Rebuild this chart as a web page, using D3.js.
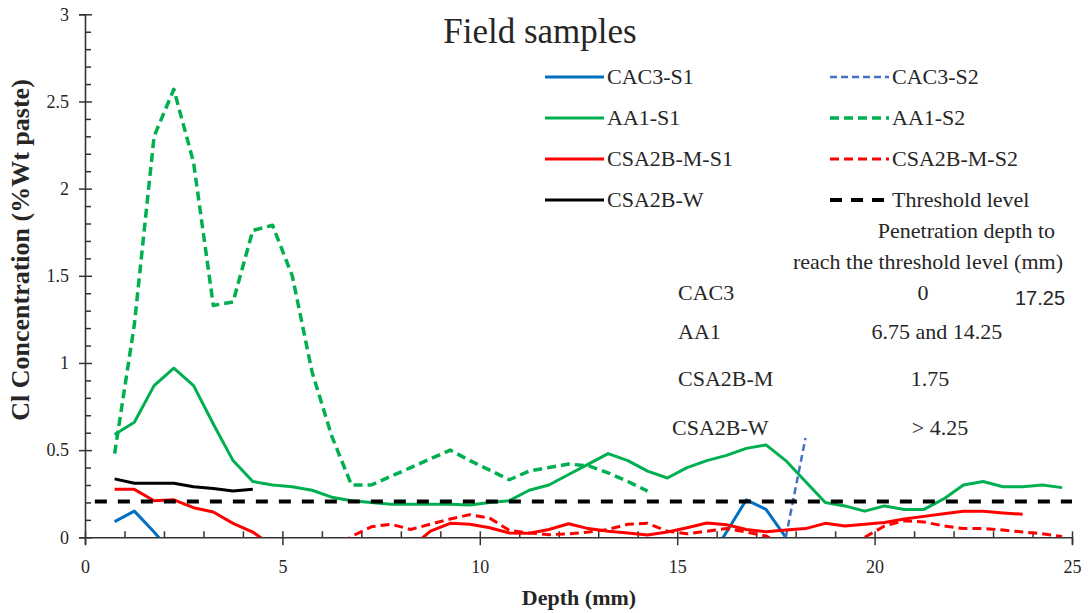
<!DOCTYPE html>
<html>
<head>
<meta charset="utf-8">
<script src="https://cdn.jsdelivr.net/npm/d3@7"></script>
<style>
  html, body { margin: 0; padding: 0; background: #fff; }
  svg { display: block; }
  text { font-family: "Liberation Serif", "Times New Roman", serif; fill: #262626; }
</style>
</head>
<body>
<svg id="chart" width="1091" height="613"></svg>
<script>
// Sampling depths (mm) shared by every profile
const depthsMm = [0.75, 1.25, 1.75, 2.25, 2.75, 3.25, 3.75, 4.25, 4.75, 5.25,
  5.75, 6.25, 6.75, 7.25, 7.75, 8.25, 8.75, 9.25, 9.75, 10.25,
  10.75, 11.25, 11.75, 12.25, 12.75, 13.25, 13.75, 14.25, 14.75, 15.25,
  15.75, 16.25, 16.75, 17.25, 17.75, 18.25, 18.75, 19.25, 19.75, 20.25,
  20.75, 21.25, 21.75, 22.25, 22.75, 23.25, 23.75, 24.25, 24.75];

// Cl concentration (%Wt paste); null = no reading at that depth
const cac3S1 = [0.09, 0.15, 0.03, -0.10, null, null, null, null, null, null,
  null, null, null, null, null, null, null, null, null, null,
  null, null, null, null, null, null, null, null, null, null,
  -0.15, 0.03, 0.215, 0.16, 0.0, null, null, null, null, null,
  null, null, null, null, null, null, null, null, null];

const cac3S2 = [null, null, null, null, null, null, null, null, null, null,
  null, null, null, null, null, null, null, null, null, null,
  null, null, null, null, null, null, null, null, null, null,
  null, null, null, null, 0.0, 0.57, null, null, null, null,
  null, null, null, null, null, null, null, null, null];

const aa1S1 = [0.59, 0.66, 0.87, 0.97, 0.87, 0.65, 0.44, 0.32, 0.30, 0.29,
  0.27, 0.23, 0.21, 0.20, 0.19, 0.19, 0.19, 0.19, 0.185, 0.20,
  0.21, 0.27, 0.30, 0.36, 0.42, 0.48, 0.44, 0.38, 0.34, 0.40,
  0.44, 0.47, 0.51, 0.53, 0.44, 0.32, 0.20, 0.18, 0.15, 0.18,
  0.16, 0.16, 0.22, 0.30, 0.32, 0.29, 0.29, 0.30, 0.285];

const aa1S2 = [0.48, 1.22, 2.30, 2.57, 2.15, 1.33, 1.35, 1.76, 1.79, 1.50,
  0.95, 0.58, 0.30, 0.30, 0.35, 0.40, 0.45, 0.50, 0.44, 0.385,
  0.33, 0.38, 0.40, 0.42, 0.41, 0.37, 0.32, 0.265, null, null,
  null, null, null, null, null, null, null, null, null, null,
  null, null, null, null, null, null, null, null, null];

const csa2bMS1 = [0.275, 0.275, 0.21, 0.215, 0.17, 0.145, 0.08, 0.03, -0.05, null,
  null, null, null, null, null, -0.06, 0.035, 0.08, 0.075, 0.055,
  0.025, 0.023, 0.045, 0.078, 0.05, 0.035, 0.025, 0.013, 0.03, 0.055,
  0.082, 0.072, 0.045, 0.032, 0.042, 0.05, 0.08, 0.065, 0.075, 0.085,
  0.105, 0.12, 0.135, 0.15, 0.15, 0.14, 0.132, null, null];

const csa2bMS2 = [null, null, null, null, null, null, null, null, null, null,
  null, -0.08, 0.005, 0.06, 0.075, 0.045, 0.075, 0.105, 0.13, 0.11,
  0.04, 0.025, 0.015, 0.02, 0.03, 0.045, 0.075, 0.08, 0.035, 0.02,
  0.035, 0.05, 0.03, 0.008, -0.06, null, null, null, 0.0, 0.065,
  0.095, 0.088, 0.065, 0.05, 0.05, 0.042, 0.03, 0.02, 0.005];

const csa2bW = [0.335, 0.31, 0.31, 0.31, 0.29, 0.28, 0.265, 0.275, null, null,
  null, null, null, null, null, null, null, null, null, null,
  null, null, null, null, null, null, null, null, null, null,
  null, null, null, null, null, null, null, null, null, null,
  null, null, null, null, null, null, null, null, null];

// Chloride threshold level
const thresholdDepths = [0.25, 25];
const thresholdValue = 0.205;

// Axis ticks
const xMajorTicks = [0, 5, 10, 15, 20, 25];
const xMinorTicks = [1, 2, 3, 4, 6, 7, 8, 9, 11, 12, 13, 14, 16, 17, 18, 19, 21, 22, 23, 24];
const yMajorTicks = [0, 0.5, 1, 1.5, 2, 2.5, 3];
const yTickLabels = ["0", "0.5", "1", "1.5", "2", "2.5", "3"];
const yMinorTicks = [0.1, 0.2, 0.3, 0.4, 0.6, 0.7, 0.8, 0.9, 1.1, 1.2, 1.3, 1.4,
  1.6, 1.7, 1.8, 1.9, 2.1, 2.2, 2.3, 2.4, 2.6, 2.7, 2.8, 2.9];

// Penetration-depth table
const tableSamples = ["CAC3", "AA1", "CSA2B-M", "CSA2B-W"];
const tableDepths = ["0", "6.75 and 14.25", "1.75", "> 4.25"];

const series = [
  { name: "CAC3-S1", values: cac3S1, color: "#0070C0", width: 3, dash: null },
  { name: "CAC3-S2", values: cac3S2, color: "#4472C4", width: 2.5, dash: "7,4" },
  { name: "AA1-S1", values: aa1S1, color: "#00B050", width: 3, dash: null },
  { name: "AA1-S2", values: aa1S2, color: "#00B050", width: 3.5, dash: "9,5" },
  { name: "CSA2B-M-S1", values: csa2bMS1, color: "#FF0000", width: 3, dash: null },
  { name: "CSA2B-M-S2", values: csa2bMS2, color: "#FF0000", width: 3, dash: "9,5" },
  { name: "CSA2B-W", values: csa2bW, color: "#000000", width: 3, dash: null }
];

const svg = d3.select("#chart");
const x = d3.scaleLinear().domain([0, 25]).range([85, 1072]);
const y = d3.scaleLinear().domain([0, 3]).range([537.3, 14.3]);

// plot-area clip so values below zero are cut at the axis
svg.append("defs").append("clipPath").attr("id", "plotClip")
  .append("rect")
  .attr("x", x(0)).attr("y", y(3))
  .attr("width", x(25) - x(0)).attr("height", y(0) - y(3));

// Axes
const axisColor = "#333";
const xAxisG = svg.append("g").attr("transform", `translate(0,${y(0)})`);
xAxisG.call(d3.axisBottom(x).tickValues(xMajorTicks).tickSize(7).tickPadding(16)
  .tickFormat(d3.format("d")));
xAxisG.selectAll(".tick line").attr("y1", -6).attr("y2", 8).attr("stroke", axisColor).attr("stroke-width", 1.5);
xAxisG.select(".domain").attr("stroke", axisColor).attr("stroke-width", 1.6);
xAxisG.selectAll(".tick text").style("font-size", "18px")
  .style("font-family", "'Liberation Serif', serif").attr("fill", "#262626");

const xMinorG = svg.append("g").attr("transform", `translate(0,${y(0)})`);
xMinorG.call(d3.axisBottom(x).tickValues(xMinorTicks).tickSize(-6).tickFormat(""));
xMinorG.select(".domain").remove();
xMinorG.selectAll(".tick line").attr("stroke", axisColor).attr("stroke-width", 1.5);

const yAxisG = svg.append("g").attr("transform", `translate(${x(0)},0)`);
yAxisG.call(d3.axisLeft(y).tickValues(yMajorTicks).tickSize(6).tickPadding(10)
  .tickFormat((d, i) => yTickLabels[i]));
yAxisG.selectAll(".tick line").attr("x1", -6).attr("x2", 7).attr("stroke", axisColor).attr("stroke-width", 1.5);
yAxisG.select(".domain").attr("stroke", axisColor).attr("stroke-width", 1.6);
yAxisG.selectAll(".tick text").style("font-size", "18px")
  .style("font-family", "'Liberation Serif', serif").attr("fill", "#262626");

const yMinorG = svg.append("g").attr("transform", `translate(${x(0)},0)`);
yMinorG.call(d3.axisLeft(y).tickValues(yMinorTicks).tickSize(-6).tickFormat(""));
yMinorG.select(".domain").remove();
yMinorG.selectAll(".tick line").attr("stroke", axisColor).attr("stroke-width", 1.5);

// Axis titles
svg.append("text")
  .attr("transform", "translate(29,250) rotate(-90)")
  .attr("text-anchor", "middle")
  .style("font-size", "26px").style("font-weight", "bold")
  .text("Cl Concentration (%Wt paste)");
svg.append("text")
  .attr("x", 579).attr("y", 605)
  .attr("text-anchor", "middle")
  .style("font-size", "22px").style("font-weight", "bold")
  .text("Depth (mm)");

// Chart title
svg.append("text")
  .attr("x", 540).attr("y", 43)
  .attr("text-anchor", "middle")
  .style("font-size", "35px")
  .text("Field samples");

// Profiles
const plot = svg.append("g").attr("clip-path", "url(#plotClip)");
const line = d3.line()
  .defined(d => d.v !== null)
  .x(d => x(d.d))
  .y(d => y(d.v));

series.forEach(s => {
  const pts = depthsMm.map((d, i) => ({ d: d, v: s.values[i] }));
  plot.append("path")
    .datum(pts)
    .attr("fill", "none")
    .attr("stroke", s.color)
    .attr("stroke-width", s.width)
    .attr("stroke-linejoin", "round")
    .attr("stroke-dasharray", s.dash)
    .attr("d", line);
});

// Threshold level
plot.append("path")
  .datum(thresholdDepths.map(d => ({ d: d, v: thresholdValue })))
  .attr("fill", "none")
  .attr("stroke", "#000")
  .attr("stroke-width", 4)
  .attr("stroke-dasharray", "12,11")
  .attr("d", line);

// Legend
const legendItems = [
  { name: "CAC3-S1", color: "#0070C0", width: 3, dash: null, col: 0, row: 0 },
  { name: "CAC3-S2", color: "#4472C4", width: 2.5, dash: "7,4", col: 1, row: 0 },
  { name: "AA1-S1", color: "#00B050", width: 3, dash: null, col: 0, row: 1 },
  { name: "AA1-S2", color: "#00B050", width: 3.5, dash: "9,5", col: 1, row: 1 },
  { name: "CSA2B-M-S1", color: "#FF0000", width: 3, dash: null, col: 0, row: 2 },
  { name: "CSA2B-M-S2", color: "#FF0000", width: 3, dash: "9,5", col: 1, row: 2 },
  { name: "CSA2B-W", color: "#000000", width: 3, dash: null, col: 0, row: 3 },
  { name: "Threshold level", color: "#000000", width: 4, dash: "12,9", col: 1, row: 3 }
];
const legendCols = [545, 830];
const legendRows = [77, 118, 159, 200];
const legend = svg.append("g");
legendItems.forEach(it => {
  const lx = legendCols[it.col], ly = legendRows[it.row];
  legend.append("line")
    .attr("x1", lx).attr("x2", lx + 59).attr("y1", ly).attr("y2", ly)
    .attr("stroke", it.color).attr("stroke-width", it.width)
    .attr("stroke-dasharray", it.dash);
  legend.append("text")
    .attr("x", lx + 62).attr("y", ly + 7)
    .style("font-size", "22px")
    .text(it.name);
});

// Penetration depth table
const table = svg.append("g");
table.append("text").attr("x", 1055).attr("y", 238).attr("text-anchor", "end")
  .style("font-size", "22px").text("Penetration depth to");
table.append("text").attr("x", 1063).attr("y", 269).attr("text-anchor", "end")
  .style("font-size", "22px").text("reach the threshold level (mm)");
const rowY = [300, 339, 386, 435];
const rowX = [678, 678, 678, 672];
const depthCenters = [923, 937, 930, 940];
tableSamples.forEach((s, i) => {
  table.append("text").attr("x", rowX[i]).attr("y", rowY[i])
    .style("font-size", "22px").text(s);
  table.append("text").attr("x", depthCenters[i]).attr("y", rowY[i])
    .attr("text-anchor", "middle")
    .style("font-size", "22px").text(tableDepths[i]);
});
table.append("text").attr("x", 1015).attr("y", 305)
  .style("font-size", "20px").style("font-family", "'Liberation Sans', Arial, sans-serif")
  .text("17.25");
</script>
</body>
</html>
